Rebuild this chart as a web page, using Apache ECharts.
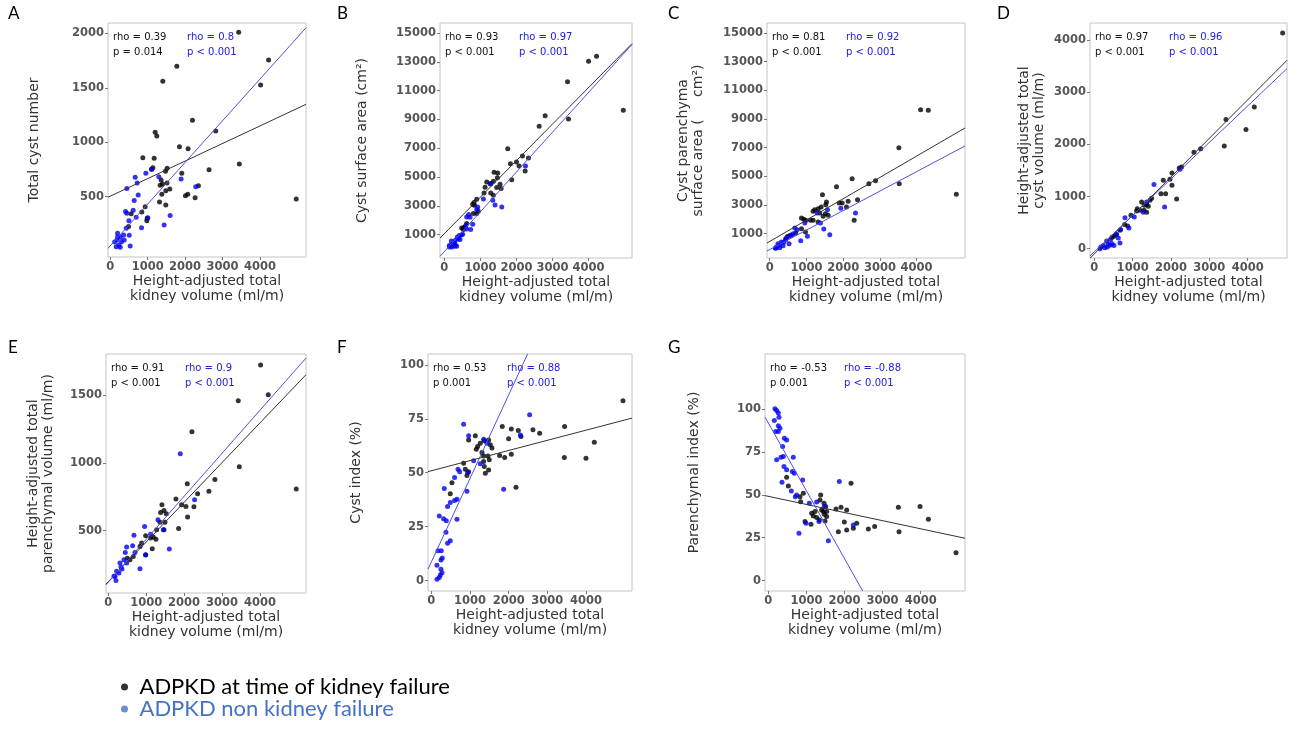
<!DOCTYPE html>
<html>
<head>
<meta charset="utf-8">
<script src="https://cdn.jsdelivr.net/npm/echarts@6/dist/echarts.min.js"></script>
<style>
  html, body { margin: 0; background: #fff; }
  #chart { width: 1298px; height: 730px; }
</style>
</head>
<body>
<div id="chart"></div>
<script>
// shared x ticks (height-adjusted total kidney volume)
const xTicks = [0, 1000, 2000, 3000, 4000];

// A - total cyst number
const blackA = [[3431,2009],[1778,1697],[1404,1559],[4231,1755],[4018,1526],[2196,1201],[2818,1103],[1200,1091],[1244,1057],[1849,959],[2080,941],[871,858],[1173,852],[1138,766],[1102,751],[1520,760],[1476,733],[3449,800],[2640,748],[1911,714],[1360,653],[1396,616],[1516,626],[1333,604],[1484,555],[1591,570],[1378,522],[2071,522],[2009,509],[2356,601],[2267,491],[1316,451],[1484,424],[4969,479],[933,408],[844,359],[560,344],[978,280],[489,225],[987,302]];
const blueA = [[667,678],[720,626],[951,714],[1111,751],[1298,684],[444,574],[747,515],[640,466],[2284,592],[1893,662],[613,375],[409,365],[444,347],[693,310],[1004,307],[1600,326],[1440,240],[498,280],[836,215],[427,209],[196,163],[267,127],[356,148],[507,145],[178,102],[231,56],[160,41],[267,35],[533,47],[302,87],[116,84],[196,130],[373,102]];

// B - cyst surface area
const blackB = [[4222,13380],[4000,13033],[3417,11621],[4963,9632],[3444,9030],[2796,9261],[2630,8521],[1759,6970],[2167,6461],[2333,6322],[1833,5929],[2000,6045],[2074,5767],[2241,5420],[1870,4818],[1380,5327],[1481,5281],[1176,4656],[1269,4541],[1361,4703],[1472,4957],[1546,4494],[1454,4263],[1574,4194],[1130,4286],[1102,3893],[1287,3893],[1361,3731],[898,3453],[824,3222],[787,3106],[833,3037],[944,2620],[898,2458],[805,2458],[574,1533],[481,1463],[528,1348],[546,1487],[620,1764]];
const blueB = [[2250,5767],[1287,4518],[1083,3476],[1343,3384],[1407,3060],[1593,2921],[926,2921],[898,2736],[676,2389],[620,2227],[713,2204],[787,1718],[593,1625],[620,1394],[731,1348],[472,976],[417,930],[361,837],[509,1022],[389,699],[306,606],[435,652],[194,560],[287,421],[213,329],[139,236],[278,190],[204,144],[343,190],[306,283],[139,144]];

// C - cyst parenchyma surface area
const blackC = [[4109,9650],[4318,9604],[3518,6999],[5082,3742],[3527,4486],[2882,4696],[2700,4486],[2245,4835],[1818,4277],[1436,3719],[1891,3138],[1973,3138],[2136,3254],[2391,3370],[2091,2858],[2300,1928],[1545,3207],[1527,3021],[1400,2858],[1318,2742],[1227,2672],[1182,2556],[1364,2440],[1518,2393],[1591,2277],[1455,2207],[1318,1812],[1182,1928],[1109,1928],[864,2091],[927,1998],[982,1928],[864,1347],[973,1114],[709,1045],[564,882],[500,812],[436,649]];
const blueC = [[1936,2765],[2336,2440],[1291,2440],[1573,2672],[1382,1742],[1473,1323],[1636,928],[1027,812],[845,509],[682,1393],[745,1277],[955,1742],[636,998],[591,882],[473,765],[436,579],[527,300],[382,393],[318,416],[273,184],[227,300],[182,67],[273,21],[155,-3],[364,160],[164,-26]];

// D - height-adjusted total cyst volume
const blackD = [[4913,4141],[3435,2477],[4174,2720],[3957,2285],[3391,1971],[2774,1920],[2600,1850],[2278,1568],[2217,1549],[2026,1453],[1974,1331],[1800,1312],[2026,1216],[1861,1056],[1739,1056],[2148,954],[1496,966],[1452,928],[1365,851],[1235,896],[1304,832],[1409,813],[1122,768],[1191,736],[1296,736],[1365,698],[1104,723],[957,640],[870,435],[791,461],[670,352],[565,269],[461,218],[513,237]];
const blueD = [[1557,1229],[2235,1523],[1835,800],[1365,896],[800,595],[1043,608],[1278,698],[904,397],[687,365],[626,205],[583,269],[426,173],[322,147],[461,96],[365,83],[235,58],[174,32],[278,19],[148,0],[339,32],[513,58],[670,109],[409,64]];

// E - height-adjusted total parenchymal volume
const blackE = [[4018,1724],[4220,1505],[3429,1461],[2207,1232],[3455,973],[4958,808],[2813,879],[2083,847],[2655,791],[2356,773],[1785,734],[1934,692],[2048,680],[2259,677],[2092,601],[1855,517],[1415,692],[1468,650],[1380,635],[1530,626],[1494,562],[1468,507],[1363,562],[1275,507],[1187,453],[1257,438],[1116,446],[985,463],[1160,367],[879,409],[835,384],[985,323],[501,296],[571,286],[659,310]];
const blueE = [[1899,1069],[2277,729],[1310,581],[1451,507],[958,532],[1116,475],[677,466],[484,379],[448,340],[642,389],[703,340],[1609,365],[985,320],[835,219],[413,286],[308,261],[334,232],[220,200],[281,187],[176,163],[202,133],[149,163],[360,217],[484,261]];

// F - cyst index (%)
const blackF = [[4957,83.3],[3448,71.4],[1836,71.4],[2069,70.3],[2250,69.6],[2629,69.9],[2802,68.3],[2319,66.8],[2000,65.7],[3440,57.0],[4000,56.7],[4216,64.1],[2069,58.6],[1767,58.0],[1897,57.0],[2190,43.3],[1138,67.1],[966,65.2],[1371,64.8],[1483,65.2],[1267,63.7],[1198,62.1],[1164,60.9],[1526,62.9],[1569,61.4],[1310,59.4],[1353,57.8],[1466,57.8],[1500,56.0],[1353,55.2],[1371,52.9],[1397,49.8],[836,54.4],[879,51.6],[922,48.7],[966,50.5],[534,45.4],[491,40.2],[1483,51.3]];
const blueF = [[2543,76.8],[836,72.5],[966,67.1],[1353,65.5],[1440,63.7],[2302,67.5],[1095,55.6],[1267,54.1],[690,51.6],[733,50.5],[603,47.8],[940,50.1],[1871,42.3],[922,41.4],[336,42.7],[664,37.7],[603,37.1],[491,36.2],[422,34.3],[207,30.0],[319,28.7],[388,27.8],[664,28.4],[379,22.4],[491,18.5],[422,17.3],[172,13.8],[259,13.9],[250,9.6],[284,10.5],[147,7.1],[250,5.3],[276,3.7],[207,1.4],[147,0.6],[233,2.6]];

// G - parenchymal index (%)
const blackG = [[4928,16.3],[4202,35.7],[3983,43.1],[3414,42.7],[3431,28.5],[2792,31.5],[2626,30.1],[2320,33.4],[2232,30.5],[2171,56.7],[2057,41.2],[1995,34.2],[2057,29.5],[1908,42.7],[1777,41.7],[1838,28.5],[1374,49.9],[1357,47.0],[1462,45.0],[1506,43.1],[1532,40.2],[1400,41.2],[1225,40.2],[1138,39.2],[1182,37.7],[1269,36.7],[1339,35.3],[1488,34.8],[1470,38.6],[1532,37.3],[1120,32.8],[963,34.4],[919,50.9],[832,48.9],[849,46.0],[481,60.2],[525,55.1],[1444,40.2]];
const blueG = [[175,100],[219,99.0],[263,97.5],[280,95.1],[158,93.2],[263,90.1],[306,88.7],[193,86.8],[263,86.8],[420,82.9],[481,81.9],[376,78.1],[219,70.3],[333,71.8],[394,72.2],[656,71.8],[411,66.4],[481,64.5],[630,63.5],[683,62.5],[359,57.3],[902,58.6],[604,52.2],[744,49.9],[709,48.9],[1864,57.7],[1077,45.0],[1269,45.8],[1470,43.1],[1330,34.4],[989,33.4],[2232,32.4],[805,27.6],[1576,23.3]];

// regression lines, endpoints read at the frame edges
const fitBlackA = [[-60,495],[5230,1348]],   fitBlueA = [[-60,26],[5230,2051]];
const fitBlackB = [[-120,764],[5205,14264]], fitBlueB = [[-120,-506],[5205,14200]];
const fitBlackC = [[-74,344],[5318,8372]],   fitBlueC = [[-74,-214],[5318,7116]];
const fitBlackD = [[-112,-185],[5027,3616]], fitBlueD = [[-112,-140],[5027,3457]];
const fitBlackE = [[-61,106],[5216,1653]],   fitBlueE = [[-61,100],[5216,1776]];
const fitBlackF = [[-85,50.5],[5190,75.3]],  fitBlueF = [[-85,5.3],[2490,105]];
const fitBlackG = [[-87,49.5],[5163,24.7]],  fitBlueG = [[-87,95.2],[2478,-6]];

// correlation labels
const statsBlack = [['rho = 0.39','p = 0.014'],['rho = 0.93','p < 0.001'],['rho = 0.81','p < 0.001'],['rho = 0.97','p < 0.001'],['rho = 0.91','p < 0.001'],['rho = 0.53','p 0.001'],['rho = -0.53','p 0.001']];
const statsBlue = [['rho = 0.8','p < 0.001'],['rho = 0.97','p < 0.001'],['rho = 0.92','p < 0.001'],['rho = 0.96','p < 0.001'],['rho = 0.9','p < 0.001'],['rho = 0.88','p < 0.001'],['rho = -0.88','p < 0.001']];

const yTicksA = [500, 1000, 1500, 2000];
const yTicksArea = [1000, 3000, 5000, 7000, 9000, 11000, 13000, 15000];
const yTicksD = [0, 1000, 2000, 3000, 4000];
const yTicksE = [500, 1000, 1500];
const yTicksPct = [0, 25, 50, 75, 100];

const NAME_K = 'ADPKD at time of kidney failure';
const NAME_N = 'ADPKD non kidney failure';

const panels = [
  { letter: 'A', rect: [108, 23, 198, 234], x: [-60, 5230], y: [-54, 2095], yTicks: yTicksA, yName: 'Total cyst number', gap: 66,
    black: blackA, blue: blueA, fitK: fitBlackA, fitN: fitBlueA },
  { letter: 'B', rect: [440, 23, 192, 235], x: [-120, 5205], y: [-624, 15694], yTicks: yTicksArea, yName: 'Cyst surface area (cm²)', gap: 70,
    black: blackB, blue: blueB, fitK: fitBlackB, fitN: fitBlueB },
  { letter: 'C', rect: [767, 23, 198, 235], x: [-74, 5318], y: [-702, 15698], yTicks: yTicksArea, yName: 'Cyst parenchyma\nsurface area (     cm²)', gap: 61,
    black: blackC, blue: blueC, fitK: fitBlackC, fitN: fitBlueC },
  { letter: 'D', rect: [1090, 23, 197, 235], x: [-112, 5027], y: [-180, 4332], yTicks: yTicksD, yName: 'Height-adjusted total\ncyst volume (ml/m)', gap: 43,
    black: blackD, blue: blueD, fitK: fitBlackD, fitN: fitBlueD },
  { letter: 'E', rect: [106, 354, 200, 239], x: [-61, 5216], y: [40, 1806], yTicks: yTicksE, yName: 'Height-adjusted total\nparenchymal volume (ml/m)', gap: 50,
    black: blackE, blue: blueE, fitK: fitBlackE, fitN: fitBlueE },
  { letter: 'F', rect: [428, 354, 204, 237], x: [-85, 5190], y: [-4.8, 105], yTicks: yTicksPct, yName: 'Cyst index (%)', gap: 64,
    black: blackF, blue: blueF, fitK: fitBlackF, fitN: fitBlueF },
  { letter: 'G', rect: [765, 354, 200, 237], x: [-87, 5163], y: [-6, 131.9], yTicks: yTicksPct, yName: 'Parenchymal index (%)', gap: 63,
    black: blackG, blue: blueG, fitK: fitBlackG, fitN: fitBlueG }
];

const FONT = 'DejaVu Sans';
const tickLabel = { fontFamily: FONT, fontWeight: 'bold', fontSize: 11.5, color: '#555', formatter: v => String(v) };
const nameStyle = { fontFamily: FONT, fontSize: 14, color: '#333', lineHeight: 15 };

const grids = [], xAxes = [], yAxes = [], series = [], graphics = [];

panels.forEach((p, i) => {
  const [left, top, width, height] = p.rect;
  grids.push({ left, top, width, height, show: true, borderColor: '#c4c4c4', borderWidth: 1, containLabel: false });

  xAxes.push({
    type: 'value', gridIndex: i, min: p.x[0], max: p.x[1],
    splitLine: { show: false },
    axisLine: { show: false, onZero: false },
    axisTick: { show: true, length: 3, lineStyle: { color: '#777' }, customValues: xTicks },
    axisLabel: Object.assign({ margin: 4, customValues: xTicks }, tickLabel),
    name: 'Height-adjusted total\nkidney volume (ml/m)', nameLocation: 'middle', nameGap: 17,
    nameTextStyle: nameStyle
  });
  yAxes.push({
    type: 'value', gridIndex: i, min: p.y[0], max: p.y[1],
    splitLine: { show: false },
    axisLine: { show: false, onZero: false },
    axisTick: { show: true, length: 3, lineStyle: { color: '#777' }, customValues: p.yTicks },
    axisLabel: Object.assign({ margin: 4, customValues: p.yTicks }, tickLabel),
    name: p.yName, nameLocation: 'middle', nameGap: p.gap,
    nameTextStyle: nameStyle
  });

  series.push(
    { name: NAME_K, type: 'scatter', xAxisIndex: i, yAxisIndex: i, data: p.black, symbolSize: 5,
      itemStyle: { color: '#000' }, z: 2 },
    { name: NAME_N, type: 'scatter', xAxisIndex: i, yAxisIndex: i, data: p.blue, symbolSize: 5,
      itemStyle: { color: '#0000f0' }, z: 2 },
    { name: 'fitK' + i, type: 'line', xAxisIndex: i, yAxisIndex: i, data: p.fitK, showSymbol: false, silent: true,
      lineStyle: { color: '#333', width: 1 }, z: 3 },
    { name: 'fitN' + i, type: 'line', xAxisIndex: i, yAxisIndex: i, data: p.fitN, showSymbol: false, silent: true,
      lineStyle: { color: '#5050e0', width: 1 }, z: 3 }
  );

  // panel letter
  const col = i < 4 ? i : i - 4;
  const letterX = [8, 337, 668, 997][col];
  const letterY = i < 4 ? 14 : 348;
  graphics.push({ type: 'text', left: letterX, top: letterY - 9,
    style: { text: p.letter, font: '17px Lato', fill: '#000' } });

  // stats
  const tx = left + 5, ty = top + 14;
  graphics.push(
    { type: 'text', x: tx, y: ty, style: { text: statsBlack[i][0], font: '10px "DejaVu Sans"', fill: '#111', verticalAlign: 'middle' } },
    { type: 'text', x: tx, y: ty + 15, style: { text: statsBlack[i][1], font: '10px "DejaVu Sans"', fill: '#111', verticalAlign: 'middle' } },
    { type: 'text', x: tx + 74, y: ty, style: { text: statsBlue[i][0], font: '10px "DejaVu Sans"', fill: '#2020e0', verticalAlign: 'middle' } },
    { type: 'text', x: tx + 74, y: ty + 15, style: { text: statsBlue[i][1], font: '10px "DejaVu Sans"', fill: '#2020e0', verticalAlign: 'middle' } }
  );
});

const legendText = { fontFamily: 'Lato', fontSize: 22 };
const legendBase = { orient: 'horizontal', left: 121, itemWidth: 20, itemHeight: 7, icon: 'circle', padding: 0 };

const chart = echarts.init(document.getElementById('chart'));
chart.setOption({
  animation: false,
  backgroundColor: '#fff',
  grid: grids,
  xAxis: xAxes,
  yAxis: yAxes,
  series: series,
  graphic: graphics,
  legend: [
    Object.assign({ top: 676, textStyle: Object.assign({ color: '#000' }, legendText),
      data: [{ name: NAME_K, itemStyle: { color: '#000' } }] }, legendBase),
    Object.assign({ top: 698, textStyle: Object.assign({ color: '#4472c4' }, legendText),
      data: [{ name: NAME_N, itemStyle: { color: '#4472c4' } }] }, legendBase)
  ]
});
</script>
</body>
</html>
